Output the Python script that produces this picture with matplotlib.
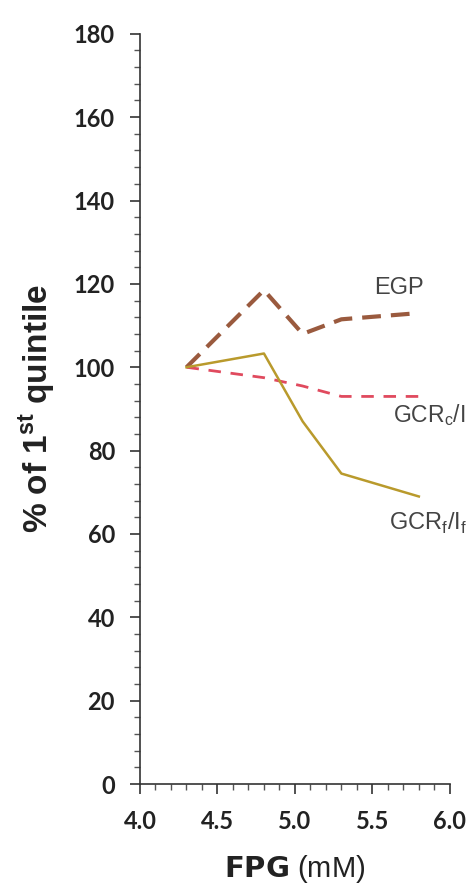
import matplotlib.pyplot as plt
from matplotlib.ticker import MultipleLocator

# FPG quintile means (mM) and % of first quintile
fpg = [4.3, 4.8, 5.05, 5.3, 5.8]
egp = [100, 118.5, 108, 111.5, 113]
gcr_c = [100, 97.5, 95.5, 93, 93]
gcr_f = [100, 103.3, 87, 74.5, 69]

x_ticks = [4.0, 4.5, 5.0, 5.5, 6.0]
y_ticks = [0, 20, 40, 60, 80, 100, 120, 140, 160, 180]

plt.rcParams['font.family'] = ['Liberation Sans', 'DejaVu Sans']

fig = plt.figure(figsize=(4.73, 8.89), dpi=100)
ax = fig.add_axes([0.296, 0.118, 0.655, 0.844])

ax.plot(fpg, egp, color='#9a5a3e', lw=3, dashes=(4.5, 2.4), solid_capstyle='butt')
ax.plot(fpg, gcr_c, color='#e04a5e', lw=2, dashes=(4.5, 3.5))
ax.plot(fpg, gcr_f, color='#b99a2c', lw=1.8)

ax.text(5.67, 119, 'EGP', fontsize=17, color='#444444', ha='center', va='center')
ax.text(5.63, 88.5, r'GCR$_{\mathregular{c}}$/I', fontsize=16.5, color='#444444',
        ha='left', va='center', clip_on=False)
ax.text(5.61, 62.5, r'GCR$_{\mathregular{f}}$/I$_{\mathregular{f}}$', fontsize=17,
        color='#444444', ha='left', va='center')

ax.set_xlim(4.0, 6.0)
ax.set_ylim(0, 180)
ax.set_xticks(x_ticks)
ax.set_xticklabels([f'{v:.1f}' for v in x_ticks])
ax.set_yticks(y_ticks)
ax.xaxis.set_minor_locator(MultipleLocator(0.1))
ax.yaxis.set_minor_locator(MultipleLocator(4))

for s in ['top', 'right']:
    ax.spines[s].set_visible(False)
for s in ['left', 'bottom']:
    ax.spines[s].set_color('#333333')
    ax.spines[s].set_linewidth(1.2)

ax.tick_params(which='major', length=7, width=1.2, color='#333333', labelsize=17)
ax.tick_params(axis='y', which='major', pad=11)
ax.tick_params(axis='x', which='major', pad=12)
ax.tick_params(which='minor', length=4, width=1, color='#555555')
for lab in ax.get_xticklabels() + ax.get_yticklabels():
    lab.set_fontweight('bold')
    lab.set_family(['Lato', 'DejaVu Sans'])
    lab.set_color('#222222')

ax.set_ylabel(r'% of 1$^{\mathregular{st}}$ quintile', fontsize=24, fontweight='bold',
              labelpad=12, color='#222222')
ax.set_xlabel(r'$\bf{FPG}$ (mM)', fontsize=21, labelpad=14, color='#222222')

fig.savefig('out.png', dpi=100, facecolor='white')
